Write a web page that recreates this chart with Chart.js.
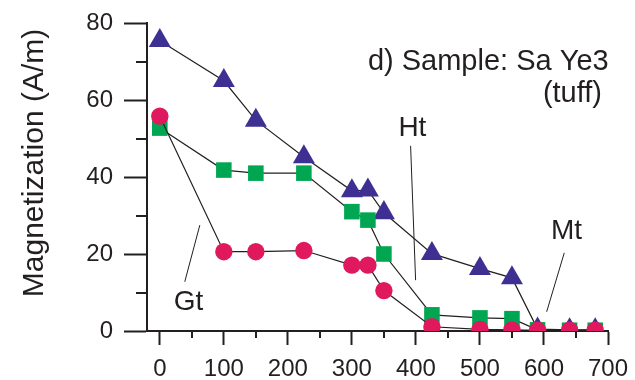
<!DOCTYPE html>
<html>
<head>
<meta charset="utf-8">
<script src="https://cdn.jsdelivr.net/npm/chart.js@4"></script>
<style>
  body { margin: 0; background: #fff; }
  #wrap { width: 635px; height: 380px; }
</style>
</head>
<body>
<div id="wrap"><canvas id="MagChart"></canvas></div>
<script>
// ---- data ----
const temps = [0, 100, 150, 225, 300, 325, 350, 425, 500, 550, 590, 640, 680];
const triangleValues = [75.4, 65.0, 54.7, 45.2, 36.4, 36.6, 30.7, 20.1, 16.2, 13.8, 0.5, 0.3, 0.3];
const squareValues   = [52.7, 41.8, 41.0, 41.0, 31.0, 28.8, 20.0, 4.2, 3.4, 3.2, 0.3, 0.2, 0.2];
const circleValues   = [55.8, 20.6, 20.6, 20.9, 17.1, 17.1, 10.5, 1.1, 0.4, 0.3, 0.2, 0.2, 0.2];

const xTicks = [0, 100, 200, 300, 400, 500, 600, 700];
const yTicks = [0, 20, 40, 60, 80];
const xMinor = [50, 150, 250, 350, 450, 550, 650];
const yMinor = [10, 30, 50, 70];

const yTitle = 'Magnetization (A/m)';

// labels + leader lines, in data units
const notes = [
  { text: 'd) Sample: Sa Ye3', x: 325, y: 67.8, align: 'left', size: 29 },
  { text: '(tuff)', x: 690.6, y: 59.6, align: 'right', size: 29 },
  { text: 'Ht', x: 394.5, y: 50.6, align: 'center', size: 28, line: [391.7, 48.1, 399.5, 13.2] },
  { text: 'Mt', x: 611, y: 23.9, align: 'left', size: 28, line: [631.7, 20.3, 604.2, 5.0] },
  { text: 'Gt', x: 21.9, y: 5.5, align: 'left', size: 28, line: [62.5, 27.5, 39, 12.8] }
];

const INK = '#231f20';
const FONT = "'Liberation Sans', Arial, sans-serif";

function toPoints(vals) {
  return temps.map((t, i) => ({ x: t, y: vals[i] }));
}

// minor ticks, titles and notes
const decorPlugin = {
  id: 'decor',
  afterDraw(chart) {
    const { ctx, chartArea, scales: { x, y } } = chart;
    ctx.save();
    ctx.strokeStyle = INK;
    ctx.lineWidth = 2;
    ctx.beginPath();
    xMinor.forEach(v => {
      const px = Math.round(x.getPixelForValue(v));
      ctx.moveTo(px, chartArea.bottom + 1);
      ctx.lineTo(px, chartArea.bottom + 7);
    });
    yMinor.forEach(v => {
      const py = Math.round(y.getPixelForValue(v));
      ctx.moveTo(chartArea.left - 11, py);
      ctx.lineTo(chartArea.left, py);
    });
    ctx.stroke();

    // y title
    ctx.fillStyle = INK;
    ctx.font = '30px ' + FONT;
    ctx.textAlign = 'center';
    ctx.textBaseline = 'alphabetic';
    ctx.translate(43, 163);
    ctx.rotate(-Math.PI / 2);
    ctx.fillText(yTitle, 0, 0);
    ctx.setTransform(1, 0, 0, 1, 0, 0);

    // notes
    ctx.lineWidth = 1;
    notes.forEach(n => {
      ctx.font = n.size + 'px ' + FONT;
      ctx.textAlign = n.align;
      ctx.fillText(n.text, x.getPixelForValue(n.x), y.getPixelForValue(n.y));
      if (n.line) {
        ctx.beginPath();
        ctx.moveTo(x.getPixelForValue(n.line[0]), y.getPixelForValue(n.line[1]));
        ctx.lineTo(x.getPixelForValue(n.line[2]), y.getPixelForValue(n.line[3]));
        ctx.stroke();
      }
    });
    ctx.restore();
  }
};

const series = (vals, style, radius, color, order) => ({
  data: toPoints(vals),
  showLine: true,
  borderColor: INK,
  borderWidth: 1.2,
  pointStyle: style,
  pointRadius: radius,
  pointBackgroundColor: color,
  pointBorderWidth: 0,
  order: order
});

new Chart(document.getElementById('MagChart'), {
  type: 'scatter',
  data: {
    datasets: [
      series(triangleValues, 'triangle', 12.7, '#3e3092', 3),
      series(squareValues, 'rect', 11, '#00a651', 2),
      series(circleValues, 'circle', 8.7, '#e0195e', 1)
    ]
  },
  options: {
    responsive: true,
    maintainAspectRatio: false,
    animation: false,
    events: [],
    layout: { padding: { top: 23, right: 27, left: 0, bottom: 0 } },
    plugins: { legend: { display: false }, tooltip: { enabled: false } },
    scales: {
      x: {
        type: 'linear',
        min: -20,
        max: 700,
        afterBuildTicks: s => { s.ticks = xTicks.map(v => ({ value: v })); },
        afterFit: s => { s.height = 49; s.paddingLeft = 0; s.paddingRight = 0; },
        border: { display: true, color: INK, width: 2 },
        grid: { drawOnChartArea: false, drawTicks: true, tickLength: 14, tickColor: INK, tickWidth: 2 },
        ticks: { color: INK, font: { family: FONT, size: 24 }, padding: 10, maxRotation: 0 }
      },
      y: {
        type: 'linear',
        min: 0,
        max: 80,
        afterBuildTicks: s => { s.ticks = yTicks.map(v => ({ value: v })); },
        afterFit: s => { s.width = 147; s.paddingTop = 0; s.paddingBottom = 0; },
        border: { display: true, color: INK, width: 2 },
        grid: { drawOnChartArea: false, drawTicks: true, tickLength: 23, tickColor: INK, tickWidth: 2 },
        ticks: { color: INK, font: { family: FONT, size: 24 }, padding: 11 }
      }
    }
  },
  plugins: [decorPlugin]
});
</script>
</body>
</html>
